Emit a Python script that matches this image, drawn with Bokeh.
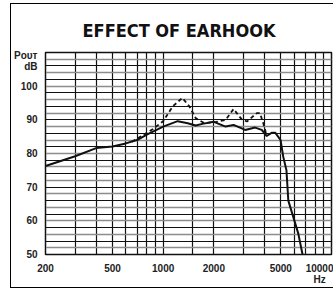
from bokeh.plotting import figure
from bokeh.models import FixedTicker, Grid, Title
from bokeh.embed import file_html
from bokeh.resources import INLINE

# --- data ---
solid_f = [200, 300, 400, 500, 600, 700, 800, 1000, 1220, 1400, 1560, 1710, 2000, 2350, 2620,
           3070, 3520, 3850, 4120, 4430, 4630, 4980, 5170, 5400, 5540, 5860, 6350, 6730]
solid_db = [76.3, 79.2, 81.6, 82.1, 83.0, 84.0, 85.6, 88.0, 89.6, 89.0, 88.3, 88.8, 89.4, 88.0, 88.5,
            87.0, 87.7, 87.0, 85.2, 86.2, 86.2, 84.0, 79.0, 75.0, 66.0, 62.0, 56.2, 50.0]

dashed_f = [650, 750, 866, 1000, 1140, 1300, 1430, 1560, 1760, 2070, 2350, 2620, 2920, 3150,
            3600, 3760, 3960, 4120]
dashed_db = [83.5, 85.3, 87.2, 89.6, 94.0, 96.5, 94.0, 90.5, 89.0, 89.4, 90.0, 93.2, 90.2, 89.5,
             92.0, 92.0, 88.5, 85.3]

x_tick_vals = [200, 500, 1000, 2000, 5000, 10000]
x_tick_labels = ["200", "500", "1000", "2000", "5000", "10000\nHz"]
x_grid_vals = [300, 400, 500, 600, 700, 800, 900, 1000, 1500, 2000, 3000, 4000, 5000,
               6000, 7000, 8000, 9000, 10000]
y_tick_vals = [50, 60, 70, 80, 90, 100]
y_tick_labels = ["50", "60", "70", "80", "90", "100"]
y_unit_label = "P\u1d0f\u1d1c\u1d1b\ndB"
y_grid_dark = list(range(50, 111, 4))
y_grid_light = list(range(52, 111, 4))

UNIT_LABEL_AT = 107.6   # vertical placement of the unit caption (layout constant)
TICK_FONT = "Liberation Sans"

p = figure(width=323, height=285, x_axis_type="log", x_range=(200, 10000), y_range=(50, 110),
           output_backend="svg", toolbar_location=None,
           min_border_left=34, min_border_right=3, min_border_top=48, min_border_bottom=35)
p.styles = {"border-left": "1px solid black", "border-top": "1px solid black",
            "border-bottom": "1px solid black", "position": "relative",
            "left": "10px", "top": "3px"}

p.background_fill_color = "white"
p.border_fill_color = "white"
p.outline_line_color = "#111111"
p.outline_line_width = 1.5

# title
p.title = Title(text="EFFECT OF EARHOOK", align="left", offset=37,
                text_font="DejaVu Sans Condensed", text_font_size="18px",
                text_font_style="bold", text_color="#111111", standoff=23)

# grids
p.xgrid[0].ticker = FixedTicker(ticks=x_grid_vals)
p.xgrid[0].grid_line_color = "#111111"
p.xgrid[0].grid_line_width = 1.2
p.xgrid[0].grid_line_alpha = 1.0

p.ygrid[0].ticker = FixedTicker(ticks=y_grid_dark)
p.ygrid[0].grid_line_color = "#111111"
p.ygrid[0].grid_line_width = 1.2
p.ygrid[0].grid_line_alpha = 1.0
p.add_layout(Grid(dimension=1, ticker=FixedTicker(ticks=y_grid_light),
                  grid_line_color="#8c8c8c", grid_line_width=1.6))

# axes
xa = p.xaxis[0]
xa.ticker = FixedTicker(ticks=x_tick_vals)
xa.major_label_overrides = {v: s for v, s in zip(x_tick_vals, x_tick_labels)}
ya = p.yaxis[0]
ya.ticker = FixedTicker(ticks=y_tick_vals + [UNIT_LABEL_AT])
y_over = {v: s for v, s in zip(y_tick_vals, y_tick_labels)}
y_over[UNIT_LABEL_AT] = y_unit_label
ya.major_label_overrides = y_over
for ax in (xa, ya):
    ax.major_tick_out = 0
    ax.major_tick_in = 0
    ax.minor_tick_out = 0
    ax.minor_tick_in = 0
    ax.axis_line_color = "#111111"
    ax.major_label_text_font = TICK_FONT
    ax.major_label_text_font_size = "10px"
    ax.major_label_text_font_style = "bold"
    ax.major_label_text_color = "#222222"
    ax.major_label_text_line_height = 1.0
    ax.major_label_standoff = 8

# curves
p.line(dashed_f, dashed_db, line_color="#111111", line_width=1.8, line_dash="4 3")
p.line(solid_f, solid_db, line_color="#111111", line_width=2)

open("out.html", "w").write(file_html(p, INLINE))
